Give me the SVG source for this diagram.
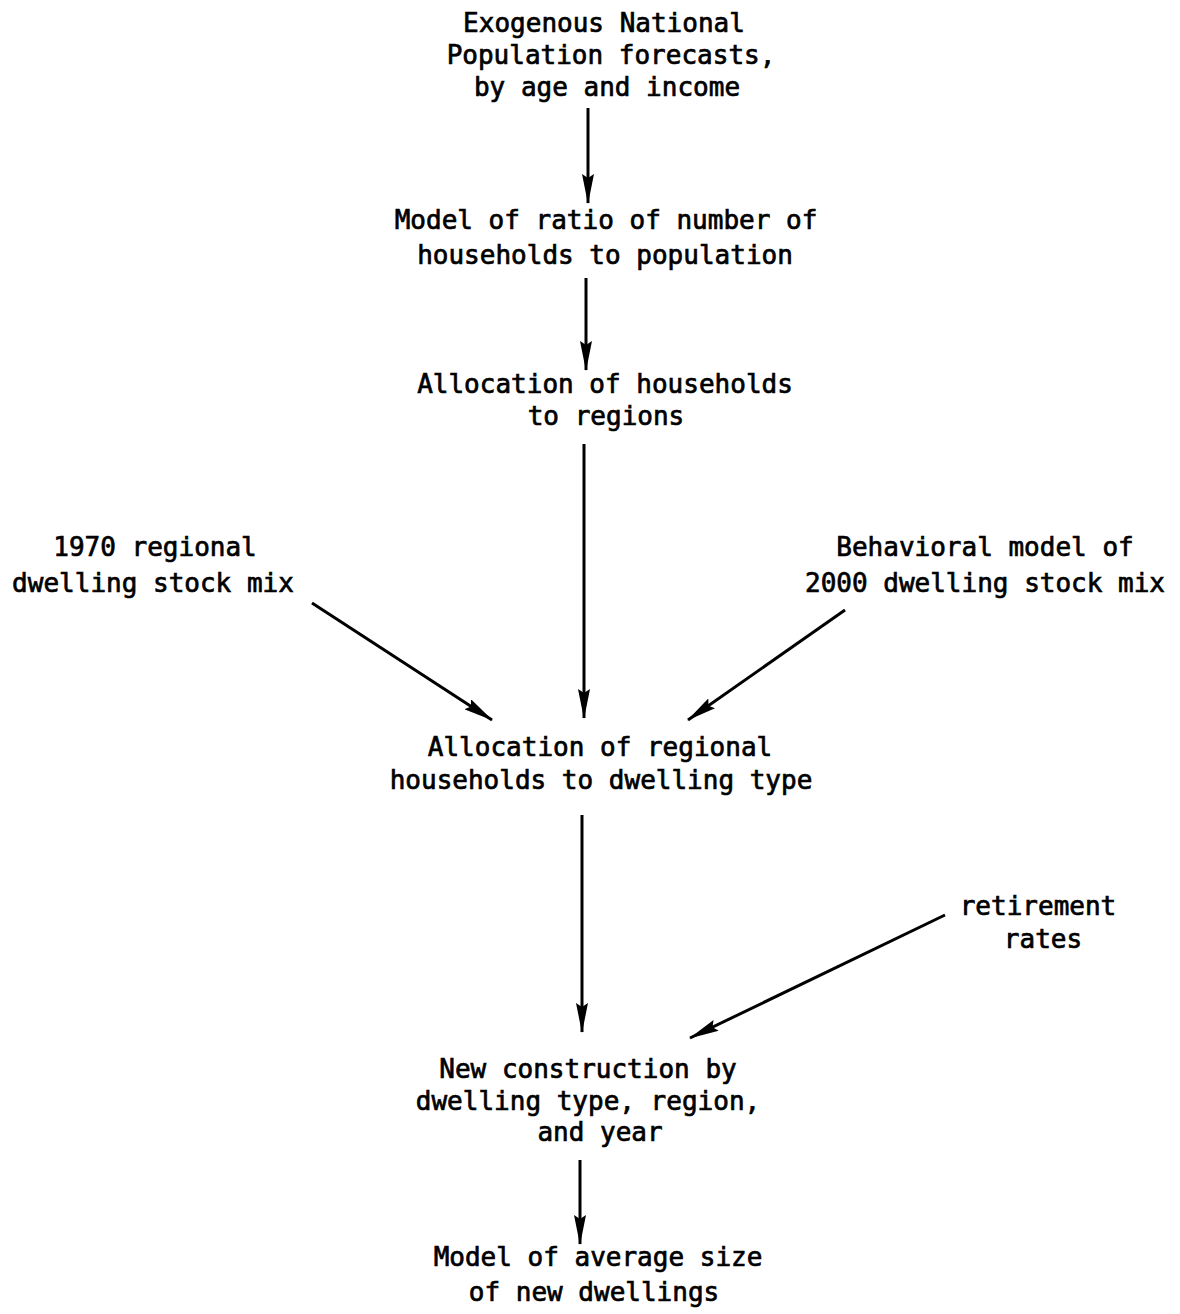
<svg xmlns="http://www.w3.org/2000/svg" width="1180" height="1314" viewBox="0 0 1180 1314">
<style>
text{font-family:"DejaVu Sans Mono","Liberation Mono",monospace;font-size:26px;fill:#000;stroke:#000;stroke-width:0.7;text-anchor:middle}
.c line{stroke:#000;stroke-width:3;marker-end:url(#ah)}
</style>
<defs>
<marker id="ah" viewBox="0 0 30 12" refX="29" refY="6" markerWidth="30" markerHeight="12" markerUnits="userSpaceOnUse" orient="auto">
<path d="M0,0 L30,6 L0,12 L4,6 z" fill="#000"/>
</marker>
</defs>
<rect width="1180" height="1314" fill="#fff"/>
<g id="n1">
<text x="604" y="32">Exogenous National</text>
<text x="611" y="64">Population forecasts,</text>
<text x="607" y="96">by age and income</text>
</g>
<g id="n2">
<text x="606" y="229">Model of ratio of number of</text>
<text x="605" y="264">households to population</text>
</g>
<g id="n3">
<text x="605" y="393">Allocation of households</text>
<text x="606" y="425">to regions</text>
</g>
<g id="n4">
<text x="155" y="556">1970 regional</text>
<text x="153" y="592">dwelling stock mix</text>
</g>
<g id="n5">
<text x="985" y="556">Behavioral model of</text>
<text x="985" y="592">2000 dwelling stock mix</text>
</g>
<g id="n6">
<text x="600" y="756">Allocation of regional</text>
<text x="601" y="789">households to dwelling type</text>
</g>
<g id="n7">
<text x="1038" y="915">retirement</text>
<text x="1043" y="948">rates</text>
</g>
<g id="n8">
<text x="588" y="1078">New construction by</text>
<text x="588" y="1110">dwelling type, region,</text>
<text x="600" y="1141">and year</text>
</g>
<g id="n9">
<text x="598" y="1266">Model of average size</text>
<text x="594" y="1301">of new dwellings</text>
</g>
<g class="c" id="connectors">
<line x1="588" y1="108" x2="588" y2="203"/>
<line x1="586" y1="278" x2="586" y2="370"/>
<line x1="584" y1="444" x2="584" y2="718"/>
<line x1="312" y1="603" x2="492" y2="720"/>
<line x1="845" y1="610" x2="688" y2="720"/>
<line x1="582" y1="815" x2="582" y2="1032"/>
<line x1="945" y1="915" x2="690" y2="1038"/>
<line x1="580" y1="1160" x2="580" y2="1244"/>
</g>
</svg>
